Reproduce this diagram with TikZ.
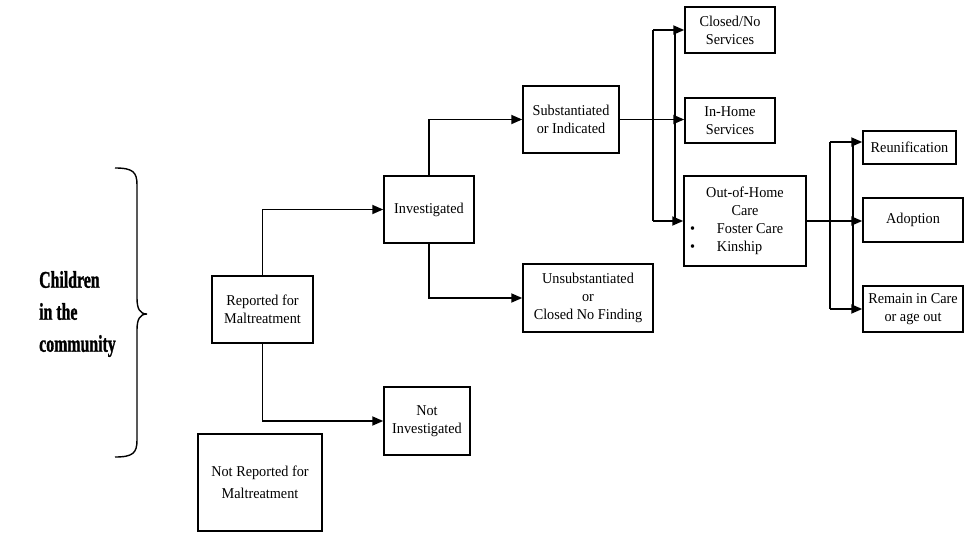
\documentclass[tikz,border=0pt]{standalone}
\usepackage{fontspec}
\setmainfont{Liberation Serif}[FakeStretch=0.95]
\newfontfamily\bigfont{Liberation Serif}[FakeStretch=0.66,BoldFont={Liberation Serif Bold},BoldFeatures={FakeStretch=0.66,FakeBold=1.2}]
\usetikzlibrary{arrows.meta,calc}
\begin{document}
\begin{tikzpicture}[x=1pt,y=-1pt,
  box/.style={draw,line width=1.5pt,inner sep=0pt,align=center,font=\fontsize{15}{18}\selectfont},
  conn/.style={line width=1.8pt},
  arr/.style={conn,-{Triangle[length=11pt,width=9pt]}}]
\useasboundingbox (0,0) rectangle (964,533);
% label and brace
\node[font=\bigfont\bfseries\fontsize{24}{32}\selectfont,align=left,anchor=west,inner sep=0pt] (lab) at (39,314) {Children\\in the\\community};
\draw[line width=1.4pt] (115,168) .. controls (133,168) and (137,172) .. (137,185) -- (137,298)
  .. controls (137,309) and (140,314) .. (147,314)
  .. controls (140,314) and (137,319) .. (137,330) -- (137,440)
  .. controls (137,453) and (133,457) .. (115,457);
% boxes
\node[box,minimum width=101pt,minimum height=67pt] (rep) at (262.5,309.5) {Reported for\\Maltreatment};
\node[box,minimum width=124pt,minimum height=97pt,font=\fontsize{15}{22}\selectfont] (notrep) at (260,482.5) {Not Reported for\\Maltreatment};
\node[box,minimum width=90pt,minimum height=67pt] (inv) at (429,209.5) {Investigated};
\node[box,minimum width=86pt,minimum height=68pt] (notinv) at (427,421) {Not\\Investigated};
\node[box,minimum width=96pt,minimum height=67pt] (sub) at (571,119.5) {Substantiated\\or Indicated};
\node[box,minimum width=130pt,minimum height=68pt] (unsub) at (588,298) {Unsubstantiated\\or\\Closed No Finding};
\node[box,minimum width=90pt,minimum height=46pt] (closed) at (730,30) {Closed/No\\Services};
\node[box,minimum width=90pt,minimum height=45pt] (inhome) at (730,120.5) {In-Home\\Services};
\node[box,minimum width=122pt,minimum height=90pt] (ooh) at (745,221) {Out-of-Home\\Care\\\makebox[122pt][l]{\hspace{6pt}\makebox[27pt][l]{\textbullet}Foster Care}\\\makebox[122pt][l]{\hspace{6pt}\makebox[27pt][l]{\textbullet}Kinship}};
\node[box,minimum width=93pt,minimum height=33pt] (reun) at (909.5,147.5) {Reunification};
\node[box,minimum width=100pt,minimum height=44pt] (adopt) at (913,220) {Adoption};
\node[box,minimum width=100pt,minimum height=46pt] (remain) at (913,309) {Remain in Care\\or age out};
% connectors
\draw[arr] (rep.north) |- (inv.west);
\draw[arr] (rep.south) |- (notinv.west);
\draw[arr] (inv.north) |- (sub.west);
\draw[arr] (inv.south) |- (unsub.west);
\draw[arr] (sub.east) -- (sub.east -| inhome.west);
\coordinate (busA) at (653,120);
\coordinate (busB) at (675,120);
\draw[conn] (closed.west -| busA) -- (ooh.west -| busA);
\draw[arr] (closed.west -| busA) -- (closed.west);
\draw[arr] (ooh.west -| busA) -- (ooh.west);
\draw[conn] (closed.west -| busB) -- (ooh.west -| busB);
\coordinate (busC) at (830,220);
\coordinate (busD) at (853,220);
\coordinate (reunin) at ([yshift=5.5pt]reun.west);
\draw[arr] (ooh.east) -- (ooh.east -| adopt.west);
\draw[conn] (reunin -| busC) -- (remain.west -| busC);
\draw[arr] (reunin -| busC) -- (reunin);
\draw[arr] (remain.west -| busC) -- (remain.west);
\draw[conn] (reunin -| busD) -- (remain.west -| busD);
\end{tikzpicture}
\end{document}
